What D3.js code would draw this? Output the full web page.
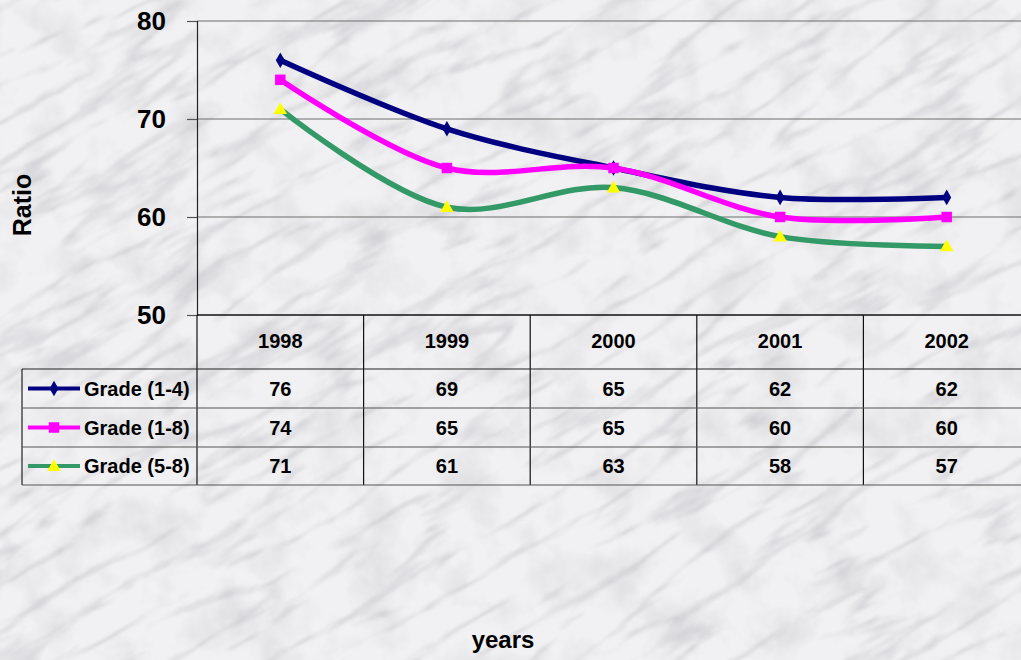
<!DOCTYPE html>
<html>
<head>
<meta charset="utf-8">
<script src="https://cdn.jsdelivr.net/npm/d3@7"></script>
<style>
  body { margin: 0; overflow: hidden; }
  text { font-family: "Liberation Sans", Arial, sans-serif; font-weight: bold; fill: #000; }
</style>
</head>
<body>
<svg width="1021" height="660"></svg>
<script>
var years = ["1998", "1999", "2000", "2001", "2002"];
var seriesNames = ["Grade (1-4)", "Grade (1-8)", "Grade (5-8)"];
var grade14 = [76, 69, 65, 62, 62];
var grade18 = [74, 65, 65, 60, 60];
var grade58 = [71, 61, 63, 58, 57];
var yTicks = [50, 60, 70, 80];

var svg = d3.select("svg"),
    margin = {top: 21, left: 197},
    plotBottom = 315,
    plotRight = 1030,
    rowH = [369, 408, 447, 485];

// marble-ish background: soft blotches + diagonal veins
var defs = svg.append("defs");
var fb = defs.append("filter").attr("id", "blotch").attr("x", 0).attr("y", 0).attr("width", "100%").attr("height", "100%");
fb.append("feTurbulence").attr("type", "fractalNoise").attr("baseFrequency", "0.02")
  .attr("numOctaves", 4).attr("seed", 3).attr("result", "n");
fb.append("feColorMatrix").attr("in", "n").attr("type", "matrix")
  .attr("values", "0 0 0 0 0.55  0 0 0 0 0.55  0 0 0 0 0.58  -2.5 0 0 0 1.35");

var fv = defs.append("filter").attr("id", "veins").attr("x", 0).attr("y", 0).attr("width", "100%").attr("height", "100%");
fv.append("feTurbulence").attr("type", "turbulence").attr("baseFrequency", "0.006 0.03")
  .attr("numOctaves", 4).attr("seed", 11).attr("result", "n");
fv.append("feColorMatrix").attr("in", "n").attr("type", "matrix")
  .attr("values", "0 0 0 0 0.45  0 0 0 0 0.45  0 0 0 0 0.5  -3.5 0 0 0 0.9")
  .attr("result", "v");
fv.append("feGaussianBlur").attr("in", "v").attr("stdDeviation", 0.9);

svg.append("rect").attr("width", 1021).attr("height", 660).attr("fill", "#f1f1f3");
svg.append("rect").attr("width", 1021).attr("height", 660).attr("filter", "url(#blotch)").attr("opacity", 0.35);
svg.append("g").attr("transform", "translate(510,330) rotate(-30)")
  .append("rect").attr("x", -800).attr("y", -700).attr("width", 1600).attr("height", 1400)
  .attr("filter", "url(#veins)").attr("opacity", 0.5);

var series = [
  {name: seriesNames[0], values: grade14, color: "#000080", marker: "diamond", mcolor: "#000080"},
  {name: seriesNames[1], values: grade18, color: "#ff00ff", marker: "square", mcolor: "#ff00ff"},
  {name: seriesNames[2], values: grade58, color: "#339966", marker: "triangle", mcolor: "#ffff00"}
];

var x = d3.scaleBand().domain(years).range([margin.left, plotRight]),
    y = d3.scaleLinear().domain([50, 80]).range([plotBottom, margin.top]);

var g = svg.append("g");

// gridlines
g.selectAll(".grid").data(yTicks.slice(1)).enter().append("line")
    .attr("x1", margin.left).attr("x2", 1021)
    .attr("y1", function(d) { return y(d); }).attr("y2", function(d) { return y(d); })
    .attr("stroke", "#6e6e6e").attr("stroke-width", 1.2);

// y axis
var yAxis = g.append("g")
    .attr("transform", "translate(" + margin.left + ",0)")
    .call(d3.axisLeft(y).tickValues(yTicks).tickSize(10).tickPadding(21).tickFormat(d3.format("d")));
yAxis.select(".domain").attr("stroke", "#222").attr("stroke-width", 1.2);
yAxis.selectAll(".tick line").attr("stroke", "#555").attr("stroke-width", 1.2);
yAxis.selectAll("text").style("font-size", "26px").style("font-weight", "bold")
    .style("font-family", "'Liberation Sans', Arial, sans-serif").attr("fill", "#000");

svg.append("text")
    .attr("transform", "translate(31,205) rotate(-90)")
    .attr("text-anchor", "middle")
    .style("font-size", "25px")
    .text("Ratio");

svg.append("text")
    .attr("x", 503).attr("y", 648)
    .attr("text-anchor", "middle")
    .style("font-size", "24px")
    .text("years");

// lines
var line = d3.line()
    .curve(d3.curveCatmullRom.alpha(0.5))
    .x(function(d, i) { return x(years[i]) + x.bandwidth() / 2; })
    .y(function(d) { return y(d); });

var sym = {
  diamond: d3.symbol().type(d3.symbolDiamond).size(70),
  square: d3.symbol().type(d3.symbolSquare).size(110),
  triangle: d3.symbol().type(d3.symbolTriangle).size(80)
};

var sg = g.selectAll(".series").data(series).enter().append("g");
sg.append("path")
    .attr("d", function(d) { return line(d.values); })
    .attr("fill", "none")
    .attr("stroke", function(d) { return d.color; })
    .attr("stroke-width", 5.5);
sg.each(function(s) {
  d3.select(this).selectAll(".m").data(s.values).enter().append("path")
    .attr("transform", function(d, i) { return "translate(" + (x(years[i]) + x.bandwidth() / 2) + "," + (y(d) + (s.marker === "triangle" ? 1 : 0)) + ")"; })
    .attr("d", sym[s.marker]())
    .attr("fill", s.mcolor);
});

// bottom axis line at 50
g.append("line").attr("x1", margin.left).attr("x2", 1021)
    .attr("y1", plotBottom).attr("y2", plotBottom)
    .attr("stroke", "#111").attr("stroke-width", 1.5);

// data table
var t = svg.append("g");
var tableLeft = 22;
t.selectAll(".vl").data(years.concat(["end"])).enter().append("line")
    .attr("x1", function(d, i) { return i < years.length ? x(d) : plotRight; })
    .attr("x2", function(d, i) { return i < years.length ? x(d) : plotRight; })
    .attr("y1", plotBottom).attr("y2", rowH[3])
    .attr("stroke", "#111").attr("stroke-width", 1.2);
t.append("line").attr("x1", tableLeft).attr("x2", tableLeft).attr("y1", rowH[0]).attr("y2", rowH[3])
    .attr("stroke", "#222").attr("stroke-width", 1.2);
t.selectAll(".hl").data(rowH).enter().append("line")
    .attr("x1", tableLeft).attr("x2", 1021)
    .attr("y1", function(d) { return d; }).attr("y2", function(d) { return d; })
    .attr("stroke", function(d, i) { return i === 0 ? "#222" : "#555"; })
    .attr("stroke-width", 1.2);

t.selectAll(".yr").data(years).enter().append("text")
    .attr("x", function(d) { return x(d) + x.bandwidth() / 2; })
    .attr("y", 348)
    .attr("text-anchor", "middle")
    .style("font-size", "20px")
    .text(function(d) { return d; });

series.forEach(function(s, r) {
  var cy = (rowH[r] + rowH[r + 1]) / 2;
  t.selectAll(".v" + r).data(s.values).enter().append("text")
    .attr("x", function(d, i) { return x(years[i]) + x.bandwidth() / 2; })
    .attr("y", cy + 7)
    .attr("text-anchor", "middle")
    .style("font-size", "20px")
    .text(function(d) { return d; });
  t.append("line").attr("x1", 28).attr("x2", 80).attr("y1", cy).attr("y2", cy)
    .attr("stroke", s.color).attr("stroke-width", 4);
  t.append("path").attr("transform", "translate(54," + (cy + (s.marker === "triangle" ? 1 : 0)) + ")")
    .attr("d", sym[s.marker]()).attr("fill", s.mcolor);
  t.append("text").attr("x", 84).attr("y", cy + 7)
    .style("font-size", "20px")
    .text(s.name);
});
</script>
</body>
</html>
